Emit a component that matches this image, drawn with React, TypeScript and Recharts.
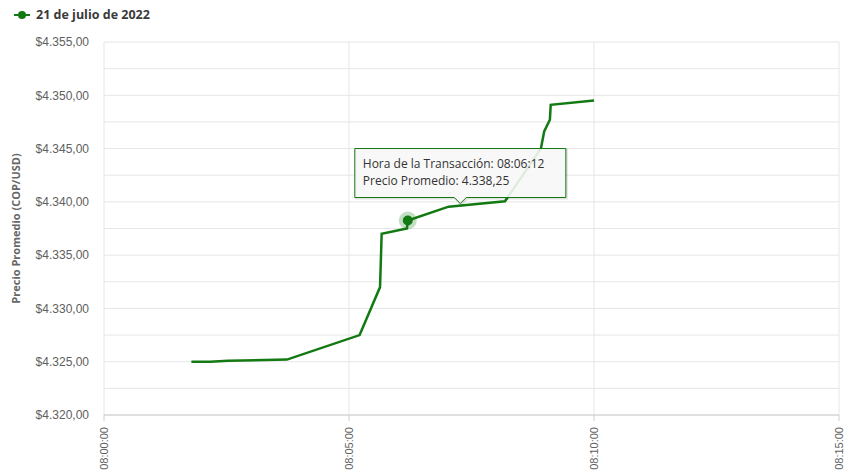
import { CartesianGrid, Legend, Line, LineChart, XAxis, YAxis } from "recharts";

// transacciones del 21 de julio de 2022 (hora, precio promedio COP/USD)
const times = [
  "08:01:47",
  "08:02:10",
  "08:02:32",
  "08:03:44",
  "08:05:13",
  "08:05:38",
  "08:05:40",
  "08:06:11",
  "08:06:12",
  "08:07:02",
  "08:08:11",
  "08:08:55",
  "08:08:59",
  "08:09:06",
  "08:09:07",
  "08:10:00",
];
const prices = [
  4325.0, 4325.0, 4325.1, 4325.2, 4327.5, 4332.0, 4337.0, 4337.5, 4338.25,
  4339.55, 4340.05, 4345.0, 4346.6, 4347.7, 4349.1, 4349.5,
];

const xTickLabels = ["08:00:00", "08:05:00", "08:10:00", "08:15:00"];
const yTicks = [4320, 4325, 4330, 4335, 4340, 4345, 4350, 4355];
const yGridValues = [
  4320, 4322.5, 4325, 4327.5, 4330, 4332.5, 4335, 4337.5, 4340, 4342.5, 4345,
  4347.5, 4350, 4352.5, 4355,
];

const seriesName = "21 de julio de 2022";
const activeTime = "08:06:12";

const GREEN = "#137a13";

const toSec = (t: string) => {
  const [h, m, s] = t.split(":").map(Number);
  return h * 3600 + m * 60 + s;
};
const pad = (n: number) => String(n).padStart(2, "0");
const toTime = (sec: number) =>
  `${pad(Math.floor(sec / 3600))}:${pad(Math.floor((sec % 3600) / 60))}:${pad(sec % 60)}`;

// formato es-CO: 4.338,25
const fmt = (v: number) => {
  const [i, d] = v.toFixed(2).split(".");
  return i.replace(/\B(?=(\d{3})+(?!\d))/g, ".") + "," + d;
};

const data = times.map((t, i) => ({ t: toSec(t), label: t, price: prices[i] }));
const xTicks = xTickLabels.map(toSec);

const XTick = ({ x, y, payload }: any) => (
  <text
    x={x}
    y={y}
    transform={`rotate(-90 ${x} ${y})`}
    textAnchor="end"
    dy="0.35em"
    fontSize={11}
    fill="#606060"
    fontFamily="'Liberation Sans', Arial, sans-serif"
  >
    {toTime(payload.value)}
  </text>
);

const YTitle = ({ viewBox }: any) => {
  const cy = viewBox.y + viewBox.height / 2;
  const cx = 16;
  return (
    <text
      x={cx}
      y={cy}
      transform={`rotate(-90 ${cx} ${cy})`}
      textAnchor="middle"
      dy="0.35em"
      fontSize={11}
      fontWeight={700}
      fill="#666"
      fontFamily="'Open Sans', sans-serif"
    >
      Precio Promedio (COP/USD)
    </text>
  );
};

const renderDot = (props: any) => {
  const { cx, cy, index, payload } = props;
  if (payload.label !== activeTime) return <g key={`d${index}`} />;
  const w = 211;
  const h = 49;
  const bx = cx - 53;
  const by = cy - 72;
  const px = bx + w / 2;
  const box = `M${bx} ${by} H${bx + w} V${by + h} H${px + 6} L${px} ${by + h + 6} L${px - 6} ${by + h} H${bx} Z`;
  return (
    <g key={`d${index}`}>
      <circle cx={cx} cy={cy} r={9} fill={GREEN} fillOpacity={0.25} />
      <circle cx={cx} cy={cy} r={5} fill={GREEN} />
      <path d={box} transform="translate(1 1)" fill="none" stroke="#000" strokeOpacity={0.12} strokeWidth={2} />
      <path d={box} fill="#f7f7f7" fillOpacity={0.9} stroke={GREEN} strokeWidth={1} />
      <text
        x={bx + 8}
        y={by + 19}
        fontSize={12}
        fill="#333"
        fontFamily="'Open Sans', sans-serif"
      >
        Hora de la Transacción: {payload.label}
      </text>
      <text
        x={bx + 8}
        y={by + 36}
        fontSize={12}
        fill="#333"
        fontFamily="'Open Sans', sans-serif"
      >
        Precio Promedio: {fmt(payload.price)}
      </text>
    </g>
  );
};

const LegendContent = () => (
  <div
    style={{
      height: 42,
      display: "flex",
      alignItems: "flex-start",
      paddingLeft: 14,
      paddingTop: 6,
      boxSizing: "border-box",
      fontFamily: "'Open Sans', sans-serif",
      fontSize: 12.5,
      fontWeight: 700,
      color: "#3a3a3a",
    }}
  >
    <svg width={16} height={18} style={{ marginRight: 6 }}>
      <line x1={0} y1={9} x2={16} y2={9} stroke={GREEN} strokeWidth={2} />
      <circle cx={8} cy={9} r={4} fill={GREEN} />
    </svg>
    <span style={{ lineHeight: "18px" }}>{seriesName}</span>
  </div>
);

export default function App() {
  return (
    <div style={{ width: 851, height: 475, background: "#fff" }}>
      <style>{"body{margin:0}"}</style>
      <LineChart width={851} height={475} data={data} margin={{ top: 0, right: 12, bottom: 0, left: 0 }}>
        <Legend verticalAlign="top" align="left" content={<LegendContent />} />
        <CartesianGrid stroke="#e6e6e6" horizontalValues={yGridValues} />
        <XAxis
          dataKey="t"
          type="number"
          domain={[xTicks[0], xTicks[xTicks.length - 1]]}
          ticks={xTicks}
          height={60}
          tick={<XTick />}
          tickSize={6}
          tickMargin={6}
          stroke="#ccc"
          interval={0}
        />
        <YAxis
          type="number"
          domain={[yTicks[0], yTicks[yTicks.length - 1]]}
          ticks={yTicks}
          width={104}
          axisLine={false}
          tickLine={false}
          tickSize={6}
          tickMargin={9}
          tickFormatter={(v: number) => `$${fmt(v)}`}
          tick={{ fontSize: 12, fill: "#606060", fontFamily: "'Liberation Sans', Arial, sans-serif" }}
          interval={0}
          label={<YTitle />}
        />
        <Line
          type="linear"
          dataKey="price"
          stroke={GREEN}
          strokeWidth={2.5}
          dot={renderDot}
          activeDot={false}
          isAnimationActive={false}
        />
      </LineChart>
    </div>
  );
}
